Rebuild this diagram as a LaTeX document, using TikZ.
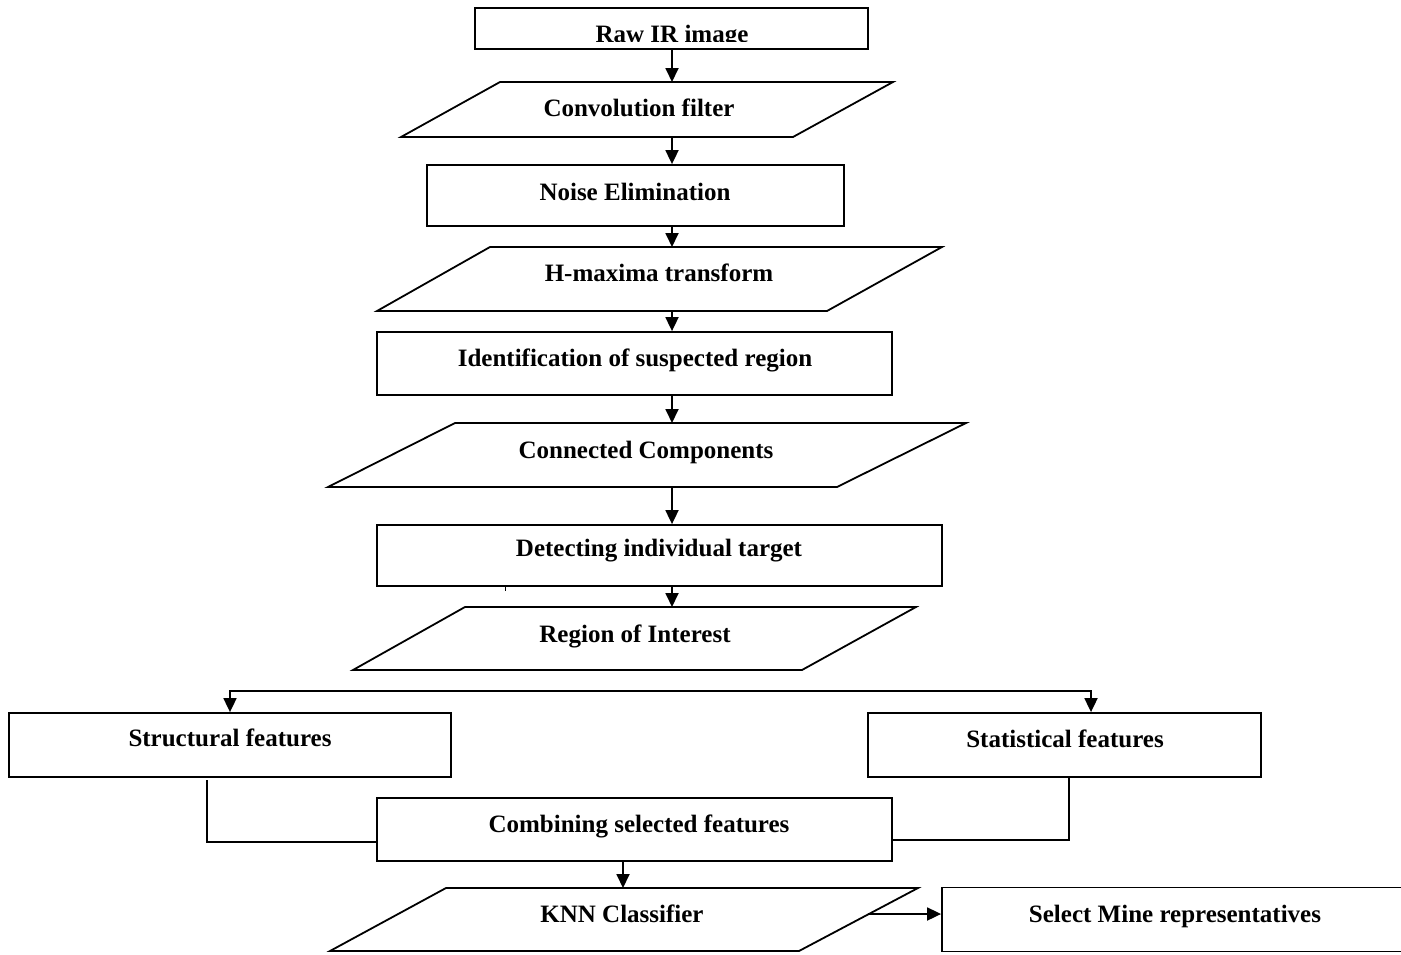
\documentclass[tikz,border=0pt]{standalone}
\usepackage{fontspec}
\setmainfont{Liberation Serif}
\usetikzlibrary{arrows.meta}
\begin{document}
\begin{tikzpicture}[x=1pt,y=-1pt,
  lw/.style={line width=1.8pt},
  box/.style={draw, line width=1.8pt, rectangle, inner sep=0pt},
  txt/.style={font=\bfseries\fontsize{25}{30}\selectfont, anchor=base, inner sep=0pt},
  arr/.style={line width=1.8pt, -{Triangle[width=13pt,length=14pt]}},
  conn/.style={line width=1.8pt}]
\useasboundingbox (0,0) rectangle (1401,954);
\fill[white] (0,0) rectangle (1401,954);
\coordinate (spine) at (672,0);

% Raw IR image
\node[box, minimum width=393pt, minimum height=41pt] (raw) at (671.5,28.5) {};
\begin{scope}
\clip (476,9) rectangle (867,41);
\node[txt] (rawt) at (672,42) {Raw IR image};
\end{scope}

% Convolution filter
\draw[lw] (500,82) -- (893,82) -- (793,137) -- (401,137) -- cycle;
\coordinate (convtop) at (672,82);
\coordinate (convbot) at (672,137);
\node[txt] (convt) at (639,116) {Convolution filter};

% Noise Elimination
\node[box, minimum width=417pt, minimum height=61pt] (noise) at (635.5,195.5) {};
\node[txt] (noiset) at (635,200) {Noise Elimination};

% H-maxima
\draw[lw] (490,247) -- (942,247) -- (827,311) -- (377,311) -- cycle;
\coordinate (hmtop) at (672,247);
\coordinate (hmbot) at (672,311);
\node[txt] (hmt) at (659,281) {H-maxima transform};

% Identification
\node[box, minimum width=515pt, minimum height=63pt] (ident) at (634.5,363.5) {};
\node[txt] (identt) at (635,366) {Identification of suspected region};

% Connected Components
\draw[lw] (455,423) -- (966,423) -- (837,487) -- (328,487) -- cycle;
\coordinate (cctop) at (672,423);
\coordinate (ccbot) at (672,487);
\node[txt] (cct) at (646,458) {Connected Components};

% Detecting
\node[box, minimum width=565pt, minimum height=61pt] (detect) at (659.5,555.5) {};
\node[txt] (detectt) at (659,556) {Detecting individual target};
\coordinate (tick) at (505,586);
\draw[line width=1pt] (tick) -- ++(0,5);

% ROI
\draw[lw] (465,607) -- (916,607) -- (802,670) -- (353,670) -- cycle;
\coordinate (roitop) at (672,607);
\node[txt] (roit) at (635,642) {Region of Interest};

% Structural / Statistical
\node[box, minimum width=442pt, minimum height=64pt] (struct) at (230,745) {};
\node[txt] (structt) at (230,746) {Structural features};
\node[box, minimum width=393pt, minimum height=64pt] (stat) at (1064.5,745) {};
\node[txt] (statt) at (1065,747) {Statistical features};

% Combining
\node[box, minimum width=515pt, minimum height=63pt] (comb) at (634.5,829.5) {};
\node[txt] (combt) at (639,832) {Combining selected features};

% KNN
\draw[lw] (446,888) -- (918,888) -- (799,951) -- (330,951) -- cycle;
\coordinate (knntop) at (623,888);
\coordinate (knnright) at (868,914);
\node[txt] (knnt) at (622,922) {KNN Classifier};

% Select
\node[box, minimum width=466pt, minimum height=64pt] (select) at (1175,919.5) {};
\node[txt] (selectt) at (1175,922) {Select Mine representatives};

% Connectors
\draw[arr] (raw.south -| spine) -- (convtop);
\draw[arr] (convbot) -- (noise.north -| spine);
\draw[arr] (noise.south -| spine) -- (hmtop);
\draw[arr] (hmbot) -- (ident.north -| spine);
\draw[arr] (ident.south -| spine) -- (cctop);
\draw[arr] (ccbot) -- (detect.north -| spine);
\draw[arr] (detect.south -| spine) -- (roitop);

\coordinate (splitL) at (230,691);
\coordinate (splitR) at (1091,691);
\draw[arr] (splitR) -- (splitL) -- (struct.north);
\draw[arr] (splitL) -- (splitR) -- (splitR |- stat.north);

\coordinate (lc) at (207,780);
\draw[conn] (lc) |- (comb.west |- 0,842);
\coordinate (rc) at (1069,777);
\draw[conn] (rc) |- (comb.east |- 0,840);

\draw[arr] (comb.south -| knntop) -- (knntop);
\draw[arr] (knnright) -- (select.west |- knnright);
\end{tikzpicture}
\end{document}
